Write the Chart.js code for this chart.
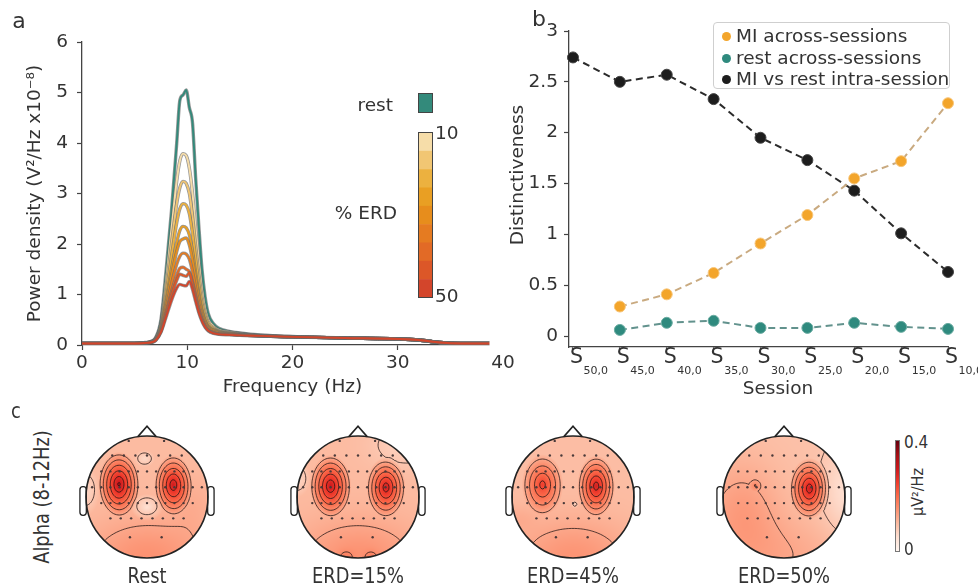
<!DOCTYPE html>
<html>
<head>
<meta charset="utf-8">
<script src="https://cdn.jsdelivr.net/npm/chart.js@4.4.1/dist/chart.umd.min.js"></script>
<style>
  body { margin:0; background:#fff; width:978px; height:588px; overflow:hidden; position:relative;
         font-family:"DejaVu Sans", sans-serif; color:#333; }
  canvas { position:absolute; }
  .t { position:absolute; white-space:nowrap; line-height:1; }
  #legend { position:absolute; left:713px; top:22px; width:237px; height:67px; box-sizing:border-box;
            border:1.5px solid #cfcfcf; border-radius:4px; background:#fff; font-size:18.5px; }
  #legend div { position:absolute; left:8px; white-space:nowrap; line-height:1; }
  #legend span { display:inline-block; width:9px; height:9px; border-radius:50%; margin-right:5px; vertical-align:1px; }
  #cbar { position:absolute; left:895px; top:440px; width:5px; height:112px; box-sizing:border-box;
          border:0.6px solid #777; background:linear-gradient(to top,#fff5f0,#fee0d2,#fcbba1,#fc9272,#fb6a4a,#ef3b2c,#cb181d,#a50f15,#67000d); }
</style>
</head>
<body>
<canvas id="psd" width="520" height="410" style="left:0;top:0"></canvas>
<canvas id="dist" width="488" height="410" style="left:490px;top:0"></canvas>
<div id="legend"></div>
<div id="topos"></div>
<div id="cbar"></div>

<div class="t" style="left:19px;top:21px;font-size:22px;transform:translate(-50%,-50%)">a</div>
<div class="t" style="left:539px;top:19px;font-size:22px;transform:translate(-50%,-50%)">b</div>
<div class="t" style="left:16px;top:411px;font-size:21px;transform:translate(-50%,-50%) scaleX(0.85)">c</div>

<div class="t" style="left:393px;top:105px;font-size:18.5px;transform:translate(-100%,-50%)">rest</div>
<div class="t" style="left:397px;top:213px;font-size:18.5px;transform:translate(-100%,-50%)">% ERD</div>
<div class="t" style="left:435px;top:133px;font-size:18.5px;transform:translate(0,-50%)">10</div>
<div class="t" style="left:435px;top:296px;font-size:18.5px;transform:translate(0,-50%)">50</div>

<div class="t" style="left:42px;top:497px;font-size:21px;transform:translate(-50%,-50%) rotate(-90deg) scaleX(0.85)">Alpha (8-12Hz)</div>
<div class="t" style="left:904px;top:442px;font-size:17px;transform:translate(0,-50%) scaleX(0.9);transform-origin:left">0.4</div>
<div class="t" style="left:904px;top:549px;font-size:17px;transform:translate(0,-50%) scaleX(0.9);transform-origin:left">0</div>
<div class="t" style="left:918px;top:492px;font-size:16px;transform:translate(-50%,-50%) rotate(-90deg) scaleX(0.9)">µV²/Hz</div>

<script>
// ===== panel a: power spectra =====
const freqHz = [0, 3, 5, 6, 6.5, 7, 7.5, 8, 8.5, 9, 9.3, 9.6, 9.9, 10.2, 10.5, 10.8,
                11.1, 11.4, 11.7, 12, 12.5, 13, 14, 15, 17, 20, 25, 30, 32, 34, 36, 40];
const freqTicks = [0, 10, 20, 30, 40];
const psdTicks = [0, 1, 2, 3, 4, 5, 6];

const restPsd = [0.03,0.03,0.03,0.05, 0.07,0.15,0.5,1.5, 2.65,4.0,4.85,4.95, 5.05,4.7,4.4,3.3,
                 2.35,1.5,0.95,0.62, 0.42,0.33,0.27,0.24, 0.2,0.17,0.14,0.12, 0.1,0.05,0.03,0.03];

const erdLevels = [10, 15, 20, 25, 30, 35, 40, 45, 50];
const erd10 = [0.03,0.03,0.03,0.04, 0.06,0.13,0.42,1.3, 2.3,3.25,3.65,3.79, 3.75,3.5,3.0,2.3,
               1.65,1.1,0.72,0.5, 0.37,0.3,0.26,0.23, 0.19,0.16,0.14,0.12, 0.1,0.05,0.03,0.03];
const erd15 = [0.03,0.03,0.03,0.04, 0.06,0.12,0.4,1.15, 2.0,2.8,3.12,3.24, 3.2,3.0,2.55,1.95,
               1.4,0.95,0.63,0.45, 0.34,0.28,0.25,0.22, 0.18,0.16,0.14,0.12, 0.1,0.05,0.03,0.03];
const erd20 = [0.03,0.03,0.03,0.04, 0.06,0.12,0.38,1.02, 1.75,2.42,2.7,2.8, 2.77,2.6,2.2,1.7,
               1.2,0.82,0.56,0.41, 0.32,0.27,0.24,0.22, 0.18,0.16,0.14,0.12, 0.1,0.05,0.03,0.03];
const erd25 = [0.03,0.03,0.03,0.04, 0.06,0.11,0.35,0.9, 1.5,2.03,2.27,2.35, 2.32,2.18,1.85,1.42,
               1.02,0.7,0.49,0.37, 0.3,0.26,0.23,0.21, 0.18,0.16,0.14,0.12, 0.1,0.05,0.03,0.03];
const erd30 = [0.03,0.03,0.03,0.04, 0.06,0.11,0.33,0.83, 1.37,1.85,2.05,2.1, 2.12,1.98,1.68,1.3,
               0.94,0.65,0.46,0.35, 0.29,0.25,0.23,0.21, 0.18,0.16,0.14,0.12, 0.1,0.05,0.03,0.03];
const erd35 = [0.03,0.03,0.03,0.04, 0.05,0.1,0.3,0.74, 1.2,1.6,1.76,1.82, 1.8,1.7,1.45,1.12,
               0.82,0.58,0.42,0.33, 0.27,0.24,0.22,0.2, 0.18,0.16,0.14,0.12, 0.1,0.05,0.03,0.03];
const erd40 = [0.03,0.03,0.03,0.04, 0.05,0.1,0.28,0.66, 1.05,1.38,1.52,1.54, 1.5,1.45,1.25,0.98,
               0.72,0.52,0.38,0.3, 0.25,0.22,0.21,0.2, 0.18,0.16,0.14,0.12, 0.1,0.05,0.03,0.03];
const erd45 = [0.03,0.03,0.03,0.04, 0.05,0.1,0.27,0.62, 0.98,1.28,1.4,1.38, 1.36,1.43,1.2,0.93,
               0.68,0.5,0.37,0.29, 0.24,0.22,0.21,0.2, 0.18,0.16,0.14,0.12, 0.1,0.05,0.03,0.03];
const erd50 = [0.03,0.03,0.03,0.04, 0.05,0.09,0.25,0.56, 0.88,1.13,1.2,1.18, 1.17,1.26,1.1,0.86,
               0.64,0.47,0.35,0.28, 0.23,0.21,0.2,0.19, 0.18,0.16,0.14,0.12, 0.1,0.05,0.03,0.03];
const erdPsd = [erd10, erd15, erd20, erd25, erd30, erd35, erd40, erd45, erd50];

const restColor = "#338a7b";
const erdColors = ["#f6dda9", "#f1c673", "#ecb13f", "#e99f23", "#e78d1c", "#e57b21", "#e26a26", "#dc5728", "#d3452b"];

// ===== panel b: distinctiveness per session =====
const sessionSubs = ["50,0", "45,0", "40,0", "35,0", "30,0", "25,0", "20,0", "15,0", "10,0"];
const distTicks = [0, 0.5, 1, 1.5, 2, 2.5, 3];
const miAcross   = [null, 0.29, 0.41, 0.62, 0.91, 1.19, 1.55, 1.72, 2.29];
const restAcross = [null, 0.06, 0.13, 0.15, 0.08, 0.08, 0.13, 0.09, 0.07];
const miVsRest   = [2.74, 2.50, 2.57, 2.33, 1.95, 1.73, 1.43, 1.01, 0.63];
const distNames  = ["MI across-sessions", "rest across-sessions", "MI vs rest intra-session"];
const distFill   = ["#f3a52b", "#2f8a7e", "#1d1d1d"];
const distEdge   = ["#f7c67c", "#6aaba1", "#444444"];
const distLine   = ["#c9aa80", "#62928d", "#2b2b2b"];

// ===== panel c: alpha topographies =====
const topoNames  = ["Rest", "ERD=15%", "ERD=45%", "ERD=50%"];
const topoCenter = [147, 358, 573, 784];
const topoMax    = 0.4;
const topoBase   = [0.1, 0.1, 0.097, 0.092];
// sources: [x, y, amplitude, rx, ry, kind]; y grows towards the back of the head,
// kind 0 = cone-shaped peak, 1 = broad gaussian
const topoBlobs = [
  [[-0.46,-0.21,0.21,0.34,0.53,0], [0.43,-0.2,0.19,0.31,0.49,0],
   [0,0.17,-0.06,0.26,0.22,0], [-0.04,-0.63,-0.04,0.17,0.14,0],
   [-1.0,-0.1,-0.04,0.22,0.4,0], [0.75,0.1,0.015,0.25,0.35,1], [0,1.0,0.05,0.7,0.45,1]],
  [[-0.45,-0.18,0.2,0.34,0.51,0], [0.46,-0.16,0.19,0.32,0.49,0],
   [-1.0,-0.3,-0.04,0.22,0.3,0], [0.8,-0.85,-0.03,0.4,0.25,1],
   [0,1.0,0.05,0.7,0.45,1], [-0.2,0.98,0.025,0.08,0.07,1], [0.22,0.98,0.025,0.08,0.07,1]],
  [[-0.5,-0.2,0.15,0.34,0.5,0], [0.38,-0.18,0.19,0.31,0.5,0],
   [0.03,0.12,-0.035,0.07,0.07,0], [0,1.0,0.05,0.7,0.45,1], [-0.9,0.35,0.015,0.2,0.15,1]],
  [[0.42,-0.14,0.2,0.33,0.5,0], [-0.47,-0.19,0.045,0.1,0.1,0],
   [-0.7,0.25,0.045,0.45,0.6,1], [1.0,-0.1,-0.04,0.25,0.5,1], [0,1.0,0.03,0.7,0.45,1]]
];
const topoLevels = [0.085, 0.125, 0.16, 0.195, 0.23, 0.265, 0.3];
const elecRows = [
  [-0.92, [-0.3, 0.28]],
  [-0.68, [-0.57, -0.38, -0.19, 0, 0.19, 0.38, 0.57]],
  [-0.42, [-0.75, -0.6, -0.45, -0.3, -0.15, 0, 0.15, 0.3, 0.45, 0.6, 0.75]],
  [-0.16, [-0.9, -0.75, -0.6, -0.45, -0.3, -0.15, 0, 0.15, 0.3, 0.45, 0.6, 0.75, 0.9]],
  [0.1,   [-0.75, -0.6, -0.45, -0.3, -0.15, 0, 0.15, 0.3, 0.45, 0.6, 0.75]],
  [0.35,  [-0.6, -0.43, -0.26, -0.09, 0.09, 0.26, 0.43, 0.6]],
  [0.66,  [-0.28, 0.24]]
];

const FONT = "DejaVu Sans";
const INK = "#333";
const AXIS = "#444";

// ===== panel a chart =====
function xy(vals){ return vals.map((v, i) => ({ x: freqHz[i], y: v })); }

const psdSets = [];
[restPsd].concat(erdPsd).forEach((vals, i) => {
  const color = i === 0 ? restColor : erdColors[i - 1];
  psdSets.push({ data: xy(vals), borderColor: "rgba(105,105,105,0.7)", borderWidth: 3.4, order: 100 - 2 * i });
  psdSets.push({ data: xy(vals), borderColor: color, borderWidth: 1.9, order: 99 - 2 * i });
});

const psdKey = {
  id: "psdKey",
  afterDraw(chart){
    const ctx = chart.ctx;
    ctx.save();
    // panel b sits over the end of the frequency axis
    ctx.fillStyle = "#fff";
    ctx.fillRect(489.5, 0, 40, chart.chartArea.bottom + 7);
    ctx.strokeStyle = "#444"; ctx.lineWidth = 1;
    ctx.fillStyle = restColor;
    ctx.fillRect(418.5, 93.5, 14, 19); ctx.strokeRect(418.5, 93.5, 14, 19);
    const top = 132.5, h = 165 / erdColors.length;
    erdColors.forEach((c, i) => { ctx.fillStyle = c; ctx.fillRect(418.5, top + i * h, 14, h + 0.5); });
    ctx.strokeRect(418.5, top, 14, 165);
    ctx.restore();
  }
};

new Chart(document.getElementById("psd"), {
  type: "line",
  data: { datasets: psdSets },
  options: {
    responsive: false, animation: false, events: [],
    layout: { padding: { left: 0, right: 17, top: 42, bottom: 0 }, autoPadding: false },
    datasets: { line: { pointRadius: 0, fill: false, cubicInterpolationMode: "monotone" } },
    plugins: { legend: { display: false }, tooltip: { enabled: false } },
    scales: {
      x: {
        type: "linear", min: 0, max: 40,
        afterBuildTicks: s => { s.ticks = freqTicks.map(v => ({ value: v })); },
        afterFit: s => { s.height = 65; },
        grid: { drawOnChartArea: false, tickLength: 5, color: AXIS, tickWidth: 1.2 },
        border: { color: AXIS, width: 1.3 },
        ticks: { font: { family: FONT, size: 18.5 }, color: INK, padding: 2, maxRotation: 0 },
        title: { display: true, text: "Frequency (Hz)", font: { family: FONT, size: 18.5 }, color: INK,
                 padding: { top: 0, bottom: 12 } }
      },
      y: {
        type: "linear", min: 0, max: 6,
        afterBuildTicks: s => { s.ticks = psdTicks.map(v => ({ value: v })); },
        afterFit: s => { s.width = 82; },
        grid: { drawOnChartArea: false, tickLength: 5, color: AXIS, tickWidth: 1.2 },
        border: { color: AXIS, width: 1.3 },
        ticks: { font: { family: FONT, size: 18.5 }, color: INK, padding: 9 },
        title: { display: true, text: "Power density (V²/Hz x10⁻⁸)", font: { family: FONT, size: 18.5 }, color: INK,
                 padding: { top: 24, bottom: 0 } }
      }
    }
  },
  plugins: [psdKey]
});

// ===== panel b chart =====
function seriesPoints(vals){
  return vals.map((v, i) => v === null ? null : { x: i, y: v }).filter(p => p);
}
const distSets = [miAcross, restAcross, miVsRest].map((vals, i) => ({
  label: distNames[i], data: seriesPoints(vals),
  borderColor: distLine[i], borderWidth: 2, borderDash: [7, 4.5],
  pointRadius: 5.5, pointBackgroundColor: distFill[i], pointBorderColor: distEdge[i], pointBorderWidth: 1,
  clip: false, tension: 0
}));

// "S" with a subscripted session id under each tick, plus both axis titles
const sessionLabels = {
  id: "sessionLabels",
  afterDraw(chart){
    const { ctx, scales: { x } } = chart;
    const y0 = chart.chartArea.bottom;
    ctx.save();
    ctx.fillStyle = INK; ctx.textBaseline = "alphabetic"; ctx.textAlign = "left";
    sessionSubs.forEach((s, i) => {
      const px = x.getPixelForValue(i) - 3;
      ctx.font = `20.5px "${FONT}"`;
      ctx.fillText("S", px, y0 + 16);
      const w = ctx.measureText("S").width;
      ctx.font = `11px "${FONT}"`;
      ctx.fillText(s, px + w + 0.5, y0 + 27);
    });
    ctx.font = `18.5px "${FONT}"`;
    ctx.textAlign = "center"; ctx.textBaseline = "middle";
    ctx.fillText("Session", 288, 389);
    ctx.translate(28, 175);
    ctx.rotate(-Math.PI / 2);
    ctx.fillText("Distinctiveness", 0, 0);
    ctx.restore();
  }
};

new Chart(document.getElementById("dist"), {
  type: "line",
  data: { datasets: distSets },
  options: {
    responsive: false, animation: false, events: [],
    layout: { padding: { left: 0, right: 30, top: 31, bottom: 0 }, autoPadding: false },
    plugins: { legend: { display: false }, tooltip: { enabled: false } },
    scales: {
      x: {
        type: "linear", min: -0.085, max: 8,
        afterBuildTicks: s => { s.ticks = sessionSubs.map((_, i) => ({ value: i })); },
        afterFit: s => { s.height = 63; },
        grid: { drawOnChartArea: false, tickLength: 5, color: AXIS, tickWidth: 1.2 },
        border: { color: AXIS, width: 1.3 },
        ticks: { callback: () => "", font: { family: FONT, size: 18.5 } }
      },
      y: {
        type: "linear", min: -0.108, max: 3,
        afterBuildTicks: s => { s.ticks = distTicks.map(v => ({ value: v })); },
        afterFit: s => { s.width = 79; },
        grid: { drawOnChartArea: false, tickLength: 5, color: AXIS, tickWidth: 1.2 },
        border: { color: AXIS, width: 1.3 },
        ticks: { font: { family: FONT, size: 18.5 }, color: INK, padding: 6, callback: v => String(v) }
      }
    }
  },
  plugins: [sessionLabels]
});

// legend box for panel b
const legend = document.getElementById("legend");
distNames.forEach((name, i) => {
  const row = document.createElement("div");
  row.style.top = (4 + i * 21.5) + "px";
  row.innerHTML = `<span style="background:${distFill[i]}"></span>${name}`;
  legend.appendChild(row);
});

// ===== panel c charts =====
const REDS = [[255,245,240],[254,224,210],[252,187,161],[252,146,114],[251,106,74],
              [239,59,44],[203,24,29],[165,15,21],[103,0,13]];
function reds(t){
  t = Math.min(1, Math.max(0, t)) * (REDS.length - 1);
  const i = Math.min(REDS.length - 2, Math.floor(t)), f = t - i;
  return REDS[i].map((c, k) => Math.round(c + (REDS[i + 1][k] - c) * f));
}
function fieldAt(k, u, v){
  let val = topoBase[k];
  topoBlobs[k].forEach(([bx, by, a, rx, ry, kind]) => {
    const dx = (u - bx) / rx, dy = (v - by) / ry;
    const d2 = dx * dx + dy * dy;
    if (kind === 1) val += a * Math.exp(-0.5 * d2);
    else if (d2 < 1) val += a * Math.pow(1 - Math.sqrt(d2), 0.9);
  });
  return val;
}

const electrodes = [];
elecRows.forEach(([y, xs]) => xs.forEach(x => electrodes.push({ x, y })));

const topoPlugin = {
  id: "topo",
  beforeDatasetsDraw(chart, args, opts){
    const k = opts.head;
    const { ctx, scales: { x, y } } = chart;
    const cx = x.getPixelForValue(0), cy = y.getPixelForValue(0);
    const r = x.getPixelForValue(1) - cx;
    const P = (u, v) => [x.getPixelForValue(u), y.getPixelForValue(v)];

    // interpolated field
    const n = Math.ceil(2 * r) + 2, x0 = Math.floor(cx - r) - 1, y0 = Math.floor(cy - r) - 1;
    const off = document.createElement("canvas");
    off.width = n; off.height = n;
    const octx = off.getContext("2d");
    const img = octx.createImageData(n, n);
    for (let j = 0; j < n; j++) for (let i = 0; i < n; i++){
      const u = x.getValueForPixel(x0 + i + 0.5), v = y.getValueForPixel(y0 + j + 0.5);
      const [R, G, B] = reds(fieldAt(k, u, v) / topoMax);
      const p = 4 * (j * n + i);
      img.data[p] = R; img.data[p + 1] = G; img.data[p + 2] = B; img.data[p + 3] = 255;
    }
    octx.putImageData(img, 0, 0);
    ctx.save();
    ctx.beginPath(); ctx.arc(cx, cy, r, 0, 2 * Math.PI); ctx.clip();
    ctx.drawImage(off, x0, y0);

    // contour lines (marching squares)
    const N = 80, st = 2 / N, g = [];
    for (let j = 0; j <= N; j++){ g.push([]); for (let i = 0; i <= N; i++) g[j].push(fieldAt(k, -1 + i * st, -1 + j * st)); }
    ctx.beginPath();
    topoLevels.forEach(lv => {
      for (let j = 0; j < N; j++) for (let i = 0; i < N; i++){
        const a = g[j][i], b = g[j][i + 1], c = g[j + 1][i + 1], d = g[j + 1][i];
        const X = -1 + i * st, Y = -1 + j * st, pts = [];
        if ((a < lv) !== (b < lv)) pts.push([X + st * (lv - a) / (b - a), Y]);
        if ((b < lv) !== (c < lv)) pts.push([X + st, Y + st * (lv - b) / (c - b)]);
        if ((d < lv) !== (c < lv)) pts.push([X + st * (lv - d) / (c - d), Y + st]);
        if ((a < lv) !== (d < lv)) pts.push([X, Y + st * (lv - a) / (d - a)]);
        for (let m = 0; m + 1 < pts.length; m += 2){
          ctx.moveTo(...P(...pts[m])); ctx.lineTo(...P(...pts[m + 1]));
        }
      }
    });
    ctx.strokeStyle = "rgba(30,20,20,0.85)"; ctx.lineWidth = 0.9; ctx.stroke();
    ctx.restore();

    // head outline, nose and ears
    ctx.save();
    ctx.strokeStyle = "#222"; ctx.lineWidth = 1.6;
    ctx.beginPath(); ctx.arc(cx, cy, r, 0, 2 * Math.PI); ctx.stroke();
    ctx.beginPath();
    ctx.moveTo(...P(-0.15, -0.99)); ctx.lineTo(...P(0, -1.16)); ctx.lineTo(...P(0.15, -0.99));
    ctx.stroke();
    ctx.lineWidth = 1.3;
    [[-1.1, -0.995], [0.995, 1.1]].forEach(([a, b]) => {
      const [px1, py1] = P(a, -0.17), [px2, py2] = P(b, 0.3);
      ctx.beginPath(); ctx.roundRect(px1, py1, px2 - px1, py2 - py1, 3); ctx.stroke();
    });
    ctx.restore();
  }
};

const topos = document.getElementById("topos");
topoNames.forEach((name, k) => {
  const cv = document.createElement("canvas");
  cv.width = 150; cv.height = 150;
  cv.style.left = (topoCenter[k] - 75) + "px"; cv.style.top = "422px";
  topos.appendChild(cv);
  new Chart(cv, {
    type: "scatter",
    data: { datasets: [{ data: electrodes, pointRadius: 1.2, pointBackgroundColor: "#4a3a3a", pointBorderWidth: 0 }] },
    options: {
      responsive: false, animation: false, events: [],
      layout: { padding: 0, autoPadding: false },
      plugins: { legend: { display: false }, tooltip: { enabled: false }, topo: { head: k } },
      scales: {
        x: { min: -1.23, max: 1.23, display: false },
        y: { min: -1.23, max: 1.23, reverse: true, display: false }
      }
    },
    plugins: [topoPlugin]
  });
  const cap = document.createElement("div");
  cap.className = "t";
  cap.style.cssText = `left:${topoCenter[k]}px;top:576px;font-size:21px;transform:translate(-50%,-50%) scaleX(0.85)`;
  cap.textContent = name;
  topos.appendChild(cap);
});
</script>
</body>
</html>
